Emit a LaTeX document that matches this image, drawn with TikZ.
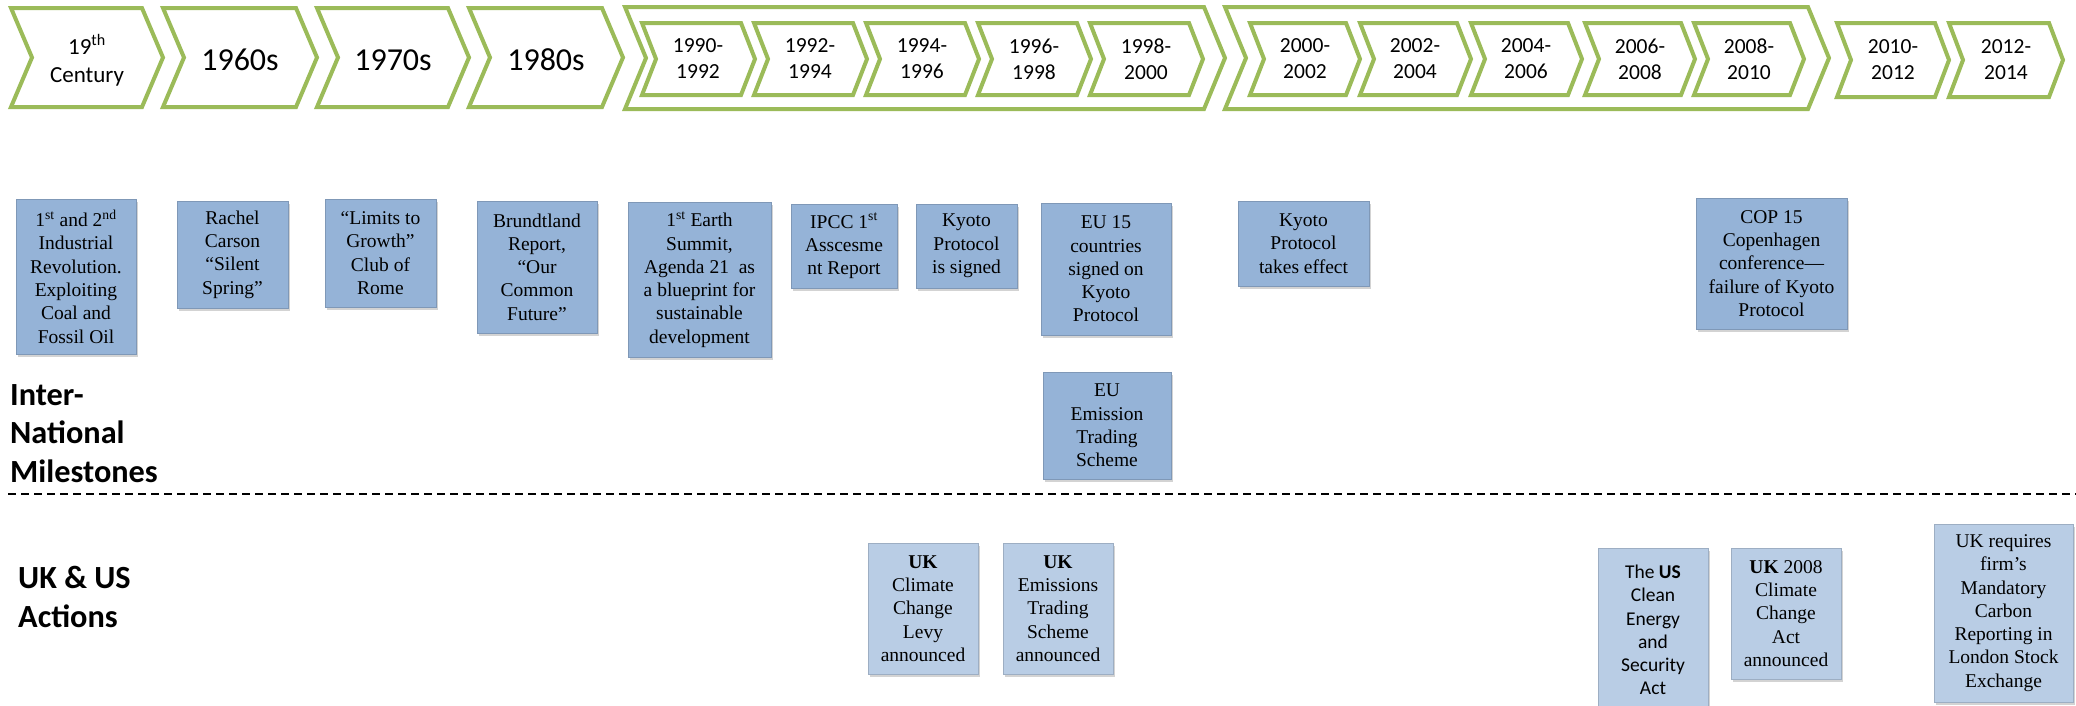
\documentclass[tikz,border=0pt]{standalone}
\usepackage{fontspec}
\setmainfont{Liberation Serif}
\newfontfamily\calibri{Carlito}
\usetikzlibrary{shadows}

\definecolor{chevgreen}{HTML}{9BBB59}
\definecolor{boxblue}{HTML}{95B3D7}
\definecolor{boxlight}{HTML}{B9CDE5}

\tikzset{
  chev/.style={draw=chevgreen, line width=4pt, line join=miter, fill=white},
  yearlbl/.style={font=\calibri\fontsize{21.5}{26}\selectfont, align=center, inner sep=0},
  decadelbl/.style={font=\calibri\fontsize{32}{36}\selectfont, align=center, inner sep=0},
  centurylbl/.style={font=\calibri\fontsize{23}{28}\selectfont, align=center, inner sep=0},
  event/.style={fill=boxblue, draw=boxblue!85!black, line width=0.6pt, align=center,
    inner sep=0, font=\fontsize{19.5}{23.3}\selectfont,
    drop shadow={shadow xshift=2pt, shadow yshift=-3pt, opacity=0.35}},
  action/.style={event, fill=boxlight, draw=boxlight!85!black},
  sectionlbl/.style={font=\calibri\bfseries\fontsize{32.3}{38.5}\selectfont, align=left,
    inner sep=0, anchor=north west},
  divider/.style={line width=2pt, dash pattern=on 8pt off 5pt},
}

% chevron outline: left, tip, top, bottom, notch/tip depth
\newcommand\timechev[5]{%
  \draw[chev] (#1,-#3) -- ({#2-#5},-#3) -- (#2,{-(#3+#4)/2}) -- ({#2-#5},-#4)
    -- (#1,-#4) -- ({#1+#5},{-(#3+#4)/2}) -- cycle;}

\begin{document}
\begin{tikzpicture}[x=1pt,y=1pt]
\useasboundingbox (0,0) rectangle (2076,-705);

% ---- top timeline ----
\timechev{11}{163}{8}{107}{21}
\timechev{163}{317}{8}{107}{21}
\timechev{317}{469}{8}{107}{21}
\timechev{469}{623}{8}{107}{21}
\timechev{625}{1225}{7}{109}{21}
\timechev{1225}{1829}{7}{109}{21}

\node[centurylbl] (c19) at (87,-60) {19\textsuperscript{th}\\Century};
\node[decadelbl] (d60) at (240,-60) {1960s};
\node[decadelbl] (d70) at (393,-60) {1970s};
\node[decadelbl] (d80) at (546,-60) {1980s};

% 1990s group
\timechev{642}{755}{23}{95}{14}
\timechev{754}{867}{23}{95}{14}
\timechev{866}{979}{23}{95}{14}
\timechev{978}{1091}{23}{95}{14}
\timechev{1090}{1203}{23}{95}{14}
\node[yearlbl] (y90) at (698,-59) {1990-\\1992};
\node[yearlbl] (y92) at (810,-59) {1992-\\1994};
\node[yearlbl] (y94) at (922,-59) {1994-\\1996};
\node[yearlbl] (y96) at (1034,-59) {1996-\\1998};
\node[yearlbl] (y98) at (1146,-59) {1998-\\2000};

% 2000s group
\timechev{1250}{1360}{23}{95}{14}
\timechev{1360}{1471}{23}{95}{14}
\timechev{1471}{1582}{23}{95}{14}
\timechev{1585}{1695}{23}{95}{14}
\timechev{1694}{1804}{23}{95}{14}
\node[yearlbl] (y00) at (1305,-59) {2000-\\2002};
\node[yearlbl] (y02) at (1415,-59) {2002-\\2004};
\node[yearlbl] (y04) at (1526,-59) {2004-\\2006};
\node[yearlbl] (y06) at (1640,-59) {2006-\\2008};
\node[yearlbl] (y08) at (1749,-59) {2008-\\2010};

% 2010s
\timechev{1837}{1949}{23}{97}{14}
\timechev{1949}{2063}{23}{97}{14}
\node[yearlbl] (y10) at (1893,-60) {2010-\\2012};
\node[yearlbl] (y12) at (2006,-60) {2012-\\2014};

% ---- international milestones ----
\node[event, minimum width=120, minimum height=155] (ind) at (76,-276.5)
  {1\textsuperscript{st} and 2\textsuperscript{nd}\\Industrial\\Revolution.\\Exploiting\\Coal and\\Fossil Oil};
\node[event, minimum width=111, minimum height=107] (carson) at (232.5,-254.5)
  {Rachel\\Carson\\“Silent\\Spring”};
\node[event, minimum width=111, minimum height=108] (limits) at (380.5,-253)
  {“Limits to\\Growth”\\Club of\\Rome};
\node[event, minimum width=120, minimum height=132] (brundt) at (537,-267)
  {Brundtland\\Report,\\“Our\\Common\\Future”};
\node[event, minimum width=143, minimum height=155] (earth) at (699.5,-279.5)
  {1\textsuperscript{st} Earth\\Summit,\\Agenda 21~~as\\a blueprint for\\sustainable\\development};
\node[event, minimum width=106, minimum height=84] (ipcc) at (844,-246)
  {IPCC 1\textsuperscript{st}\\Asscesme\\nt Report};
\node[event, minimum width=101, minimum height=84] (kyoto) at (966.5,-246)
  {Kyoto\\Protocol\\is signed};
\node[event, minimum width=130, minimum height=132] (eu15) at (1106,-269)
  {EU 15\\countries\\signed on\\Kyoto\\Protocol};
\node[event, minimum width=128, minimum height=107] (euets) at (1107,-425.5)
  {EU\\Emission\\Trading\\Scheme};
\node[event, minimum width=131, minimum height=85] (kyotoeff) at (1303.5,-243.5)
  {Kyoto\\Protocol\\takes effect};
\node[event, minimum width=151, minimum height=131] (cop15) at (1771.5,-263.5)
  {COP 15\\Copenhagen\\conference—\\failure of Kyoto\\Protocol};

% ---- section labels and divider ----
\node[sectionlbl] (intl) at (10,-384) {Inter-\\National\\Milestones};
\coordinate (divL) at (8,-494);
\coordinate (divR) at (2076,-494);
\draw[divider] (divL) -- (divR);
\node[sectionlbl] (ukus) at (18,-566) {UK \& US\\Actions};

% ---- UK & US actions ----
\node[action, minimum width=110, minimum height=131] (levy) at (923,-608.5)
  {\textbf{UK}\\Climate\\Change\\Levy\\announced};
\node[action, minimum width=110, minimum height=131] (ukets) at (1058,-608.5)
  {\textbf{UK}\\Emissions\\Trading\\Scheme\\announced};
\node[action, minimum width=110, minimum height=164, font=\calibri\fontsize{19.5}{23.3}\selectfont] (usact) at (1653,-630)
  {The \textbf{US}\\Clean\\Energy\\and\\Security\\Act};
\node[action, minimum width=110, minimum height=131] (ccact) at (1786,-613.5)
  {\textbf{UK} 2008\\Climate\\Change\\Act\\announced};
\node[action, minimum width=139, minimum height=178] (lse) at (2003.5,-613)
  {UK requires\\firm’s\\Mandatory\\Carbon\\Reporting in\\London Stock\\Exchange};

\end{tikzpicture}
\end{document}
